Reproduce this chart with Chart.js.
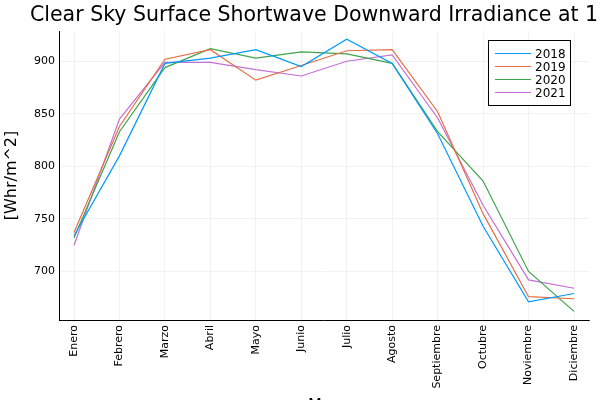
<!DOCTYPE html>
<html>
<head>
<meta charset="utf-8">
<script src="https://cdn.jsdelivr.net/npm/chart.js@4.4.0/dist/chart.umd.min.js"></script>
<style>
  html, body { margin: 0; padding: 0; background: #fff; }
  #wrap { width: 600px; height: 400px; }
</style>
</head>
<body>
<div id="wrap"><canvas id="chart" width="600" height="400"></canvas></div>
<script>
// Monthly clear-sky irradiance per year
const months = ['Enero', 'Febrero', 'Marzo', 'Abril', 'Mayo', 'Junio', 'Julio', 'Agosto', 'Septiembre', 'Octubre', 'Noviembre', 'Diciembre'];
const years = ['2018', '2019', '2020', '2021'];
const values2018 = [734, 810, 898, 903, 911, 895, 921, 898, 831, 743, 671, 679];
const values2019 = [737, 838, 902, 911, 882, 896, 910, 911, 852, 755, 676, 674];
const values2020 = [732, 833, 894, 912, 903, 909, 907, 898, 833, 786, 700, 662];
const values2021 = [725, 845, 899, 899, 892, 886, 900, 906, 846, 763, 692, 684];
const yTicks = [700, 750, 800, 850, 900];

const titleText = 'Clear Sky Surface Shortwave Downward Irradiance at 1';
const yTitle = '[Whr/m^2]';
const xTitle = 'Mes';

const colors = ['#009AFA', '#E36F47', '#3EA44E', '#C371D2'];
const font = 'DejaVu Sans';

const series = [values2018, values2019, values2020, values2021];
const datasets = series.map((vals, i) => ({
  label: years[i],
  data: vals.map((v, j) => ({ x: j, y: v })),
  borderColor: colors[i],
  backgroundColor: colors[i],
  borderWidth: 1.2,
  pointRadius: 0,
  tension: 0
}));

// titles + legend box drawn by hand (Plots.jl style)
const decorations = {
  id: 'decorations',
  afterDraw(chart) {
    const ctx = chart.ctx;
    const area = chart.chartArea;
    ctx.save();
    ctx.fillStyle = '#000';

    ctx.font = '20.5px "' + font + '"';
    ctx.textAlign = 'left';
    ctx.textBaseline = 'alphabetic';
    ctx.fillText(titleText, 30, 21);

    ctx.font = '16px "' + font + '"';
    ctx.textAlign = 'center';
    ctx.fillText(xTitle, (area.left + area.right) / 2, 410);

    ctx.save();
    ctx.translate(12, (area.top + area.bottom) / 2);
    ctx.rotate(-Math.PI / 2);
    ctx.textBaseline = 'middle';
    ctx.fillText(yTitle, 0, 0);
    ctx.restore();

    // legend
    const bx = 488.5, by = 40.5, bw = 82, bh = 65;
    ctx.fillStyle = '#fff';
    ctx.fillRect(bx, by, bw, bh);
    ctx.strokeStyle = '#000';
    ctx.lineWidth = 1;
    ctx.strokeRect(bx, by, bw, bh);
    ctx.font = '12px "' + font + '"';
    ctx.textAlign = 'left';
    ctx.textBaseline = 'middle';
    chart.data.datasets.forEach((ds, i) => {
      const y = 53.5 + i * 13;
      ctx.strokeStyle = ds.borderColor;
      ctx.beginPath();
      ctx.moveTo(495, y);
      ctx.lineTo(531, y);
      ctx.stroke();
      ctx.fillStyle = '#000';
      ctx.fillText(ds.label, 535, y + 1);
    });
    ctx.restore();
  }
};

new Chart(document.getElementById('chart'), {
  type: 'line',
  data: { datasets: datasets },
  options: {
    responsive: false,
    animation: false,
    layout: { padding: { top: 31, right: 11, bottom: 0, left: 0 } },
    scales: {
      x: {
        type: 'linear',
        min: -0.33,
        max: 11.33,
        afterBuildTicks: (scale) => { scale.ticks = months.map((m, i) => ({ value: i })); },
        afterFit: (scale) => { scale.height = 80; },
        grid: { color: 'rgba(0,0,0,0.1)', lineWidth: 0.5, drawTicks: false },
        border: { color: '#000', width: 1 },
        ticks: {
          autoSkip: false,
          minRotation: 90,
          maxRotation: 90,
          padding: 5,
          color: '#000',
          font: { family: font, size: 11 },
          callback: (v) => months[v]
        }
      },
      y: {
        min: 653.8,
        max: 928.8,
        afterBuildTicks: (scale) => { scale.ticks = yTicks.map(v => ({ value: v })); },
        afterFit: (scale) => { scale.width = 59; },
        grid: { color: 'rgba(0,0,0,0.1)', lineWidth: 0.5, drawTicks: false },
        border: { color: '#000', width: 1 },
        ticks: {
          padding: 4,
          color: '#000',
          font: { family: font, size: 11 }
        }
      }
    },
    plugins: {
      legend: { display: false },
      title: { display: false },
      tooltip: { enabled: false }
    }
  },
  plugins: [decorations]
});
</script>
</body>
</html>
